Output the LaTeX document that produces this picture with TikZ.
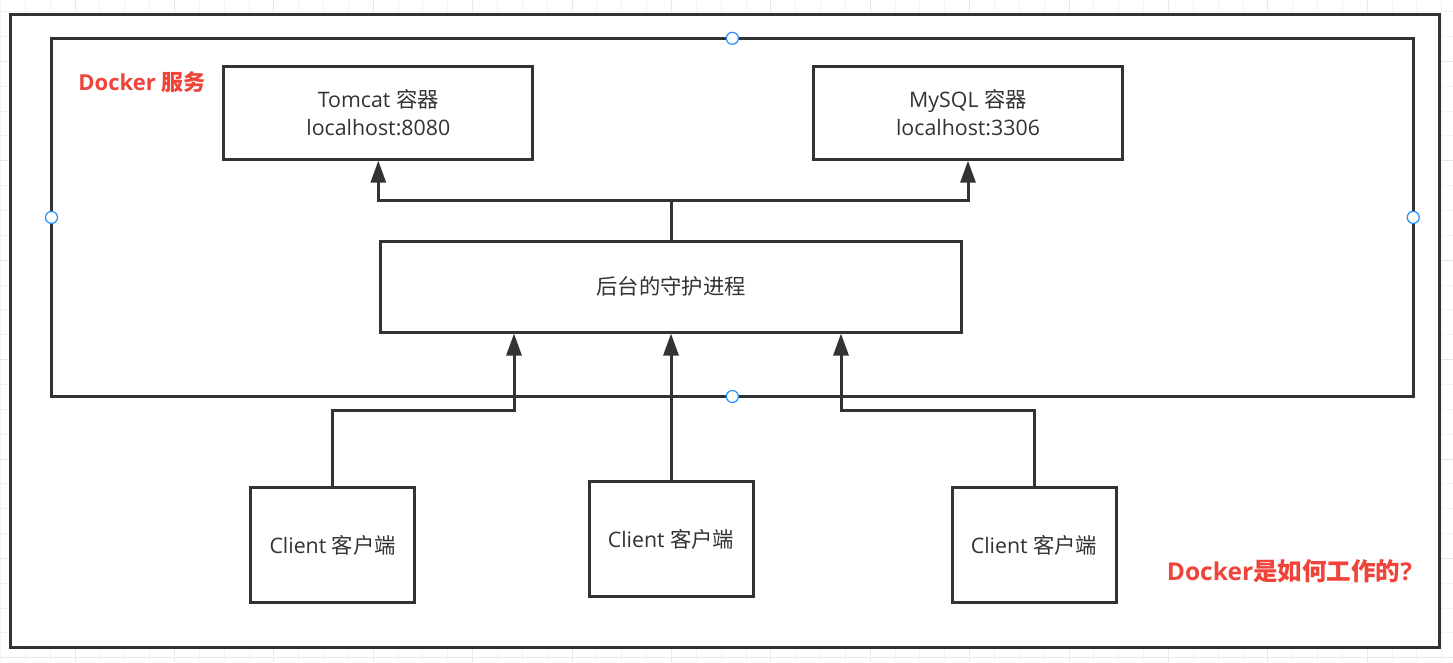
\documentclass[tikz,border=0pt]{standalone}
\usepackage{fontspec}
\setmainfont{Open Sans}
\newfontfamily\cjk{Noto Sans CJK SC}
\usetikzlibrary{arrows.meta}
\definecolor{ink}{HTML}{333333}
\definecolor{redtxt}{HTML}{F0433A}
\definecolor{handlec}{HTML}{1E90FF}
\definecolor{gridminor}{HTML}{F3F3F3}
\definecolor{gridmajor}{HTML}{E8E8E8}
\begin{document}
\begin{tikzpicture}[x=0.75pt,y=-0.75pt,
  frame/.style={draw=ink,line width=2.25pt,fill=white,inner sep=0pt,outer sep=0pt},
  box/.style={draw=ink,line width=2.25pt,fill=white,inner sep=0pt,align=center,
    text=ink,font=\fontsize{16}{21}\selectfont},
  tbox/.style={box,minimum width=231.75pt,minimum height=69.2pt},
  cbox/.style={box,minimum width=123pt,minimum height=86.25pt},
  arr/.style={draw=ink,line width=2.25pt,-{Triangle[length=16.5pt,width=11.25pt]}},
  conn/.style={draw=ink,line width=2.25pt},
  redlabel/.style={text=redtxt,font=\fontsize{16.5}{20}\selectfont\bfseries,inner sep=0pt},
  handle/.style={circle,draw=handlec,fill=white,line width=0.9pt,minimum size=9pt,inner sep=0pt}]
\useasboundingbox (0,0) rectangle (1453,662);
\fill[white] (0,0) rectangle (1453,662);
% background grid
\foreach \i in {0,...,58}{
  \pgfmathtruncatemacro\m{mod(\i,4)}
  \ifnum\m=3 \def\gc{gridmajor}\else\def\gc{gridminor}\fi
  \draw[\gc,line width=0.75pt] ({\i*24.85+0.5},0) -- ({\i*24.85+0.5},662);
}
\foreach \j in {0,...,26}{
  \pgfmathtruncatemacro\m{mod(\j,4)}
  \ifnum\m=2 \def\gc{gridmajor}\else\def\gc{gridminor}\fi
  \draw[\gc,line width=0.75pt] (0,{\j*24.85+11.7}) -- (1453,{\j*24.85+11.7});
}
% outer frame
\node[frame,minimum width=1071.5pt,minimum height=474.9pt] (outer) at (725.15,331.35) {};
% Docker service frame
\node[frame,minimum width=1021.3pt,minimum height=268.65pt] (svc) at (732.35,217.4) {};
\node[redlabel] (svclabel) at (142,82) {Docker {\cjk\bfseries 服务}};
% containers
\node[tbox] (tomcat) at (378.3,113) {Tomcat {\cjk 容器}\\localhost:8080};
\node[tbox] (mysql) at (968,113) {MySQL {\cjk 容器}\\localhost:3306};
% daemon
\node[box,minimum width=435.4pt,minimum height=68.25pt] (daemon) at (671,286.5) {\raisebox{-2pt}{\cjk 后台的守护进程}};
% clients
\node[cbox] (c1) at (332.7,545) {Client {\cjk 客户端}};
\node[cbox] (c2) at (671,539) {Client {\cjk 客户端}};
\node[cbox] (c3) at (1034,545) {Client {\cjk 客户端}};
% daemon -> containers
\coordinate (j) at (671,200.7);
\draw[conn] (daemon.north) -- (j);
\draw[arr] (j) -| (tomcat.south);
\draw[arr] (j) -| (mysql.south);
% clients -> daemon
\coordinate (k1) at (514,410.8);
\coordinate (k3) at (841,410.8);
\draw[arr] (c1.north) |- (k1) -- (daemon.south -| k1);
\draw[arr] (c2.north) -- (daemon.south -| c2.north);
\draw[arr] (c3.north) |- (k3) -- (daemon.south -| k3);
% selection handles
\node[handle] (h1) at (svc.north) {};
\node[handle] (h2) at (svc.west) {};
\node[handle] (h3) at (svc.east) {};
\node[handle] (h4) at (svc.south) {};
% title
\node[redlabel,font=\fontsize{18.4}{22}\selectfont\bfseries] (title) at (1289.5,571.5) {Docker{\cjk\bfseries 是如何工作的}?};
\end{tikzpicture}
\end{document}
